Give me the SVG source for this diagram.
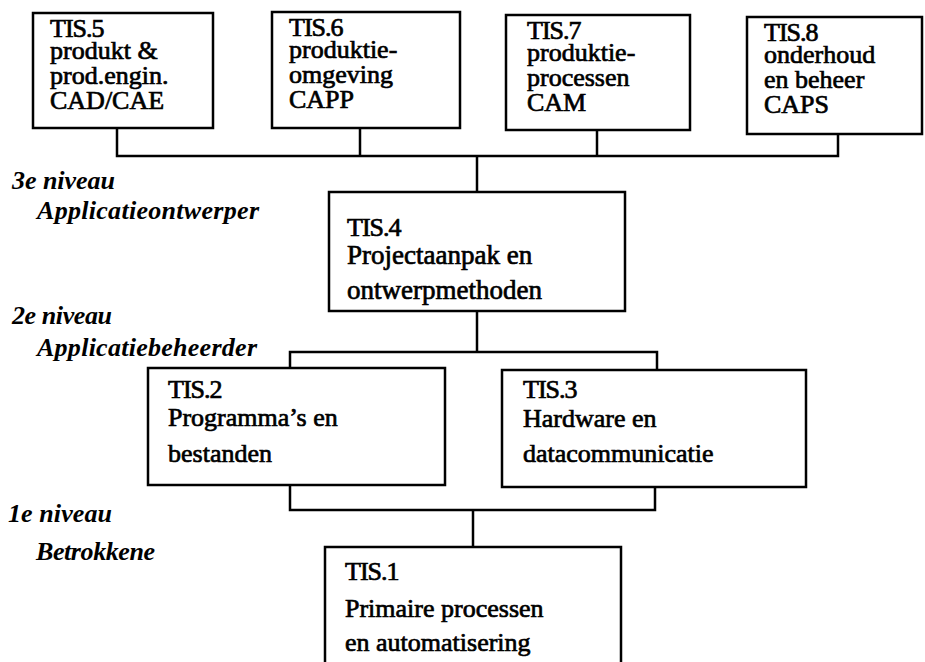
<svg xmlns="http://www.w3.org/2000/svg" width="925" height="662" viewBox="0 0 925 662">
<style>
.box{fill:#fff;stroke:#000;stroke-width:2.5}
.ln{fill:none;stroke:#000;stroke-width:2.5}
.t{font-family:"Liberation Serif","Times New Roman",serif;font-size:26px;fill:#000;stroke:#000;stroke-width:0.7}
.s{font-size:27px}
.id{letter-spacing:-1px}
.lab{font-family:"Liberation Serif","Times New Roman",serif;font-size:26px;font-style:italic;font-weight:bold;fill:#000}
</style>
<rect width="925" height="662" fill="#fff"/>
<g id="connectors">
<polyline class="ln" points="117,128 117,156 838,156 838,134"/>
<line class="ln" x1="360" y1="128" x2="360" y2="156"/>
<line class="ln" x1="597" y1="130" x2="597" y2="156"/>
<line class="ln" x1="477" y1="156" x2="477" y2="192"/>
<line class="ln" x1="477" y1="311" x2="477" y2="352"/>
<polyline class="ln" points="290,368 290,352 657,352 657,370"/>
<polyline class="ln" points="290,485 290,510 655,510 655,487"/>
<line class="ln" x1="473" y1="510" x2="473" y2="547"/>
</g>
<g id="labels">
<text class="lab" x="12" y="189" textLength="103" lengthAdjust="spacing">3e niveau</text>
<text class="lab" x="37" y="219" textLength="222" lengthAdjust="spacing">Applicatieontwerper</text>
<text class="lab" x="12" y="324" textLength="100" lengthAdjust="spacing">2e niveau</text>
<text class="lab" x="37" y="356" textLength="220" lengthAdjust="spacing">Applicatiebeheerder</text>
<text class="lab" x="8" y="522" textLength="104" lengthAdjust="spacing">1e niveau</text>
<text class="lab" x="36" y="560" textLength="119" lengthAdjust="spacing">Betrokkene</text>
</g>
<g id="tis5">
<rect class="box" x="33" y="13" width="180" height="115"/>
<text class="t id" x="50" y="37">TIS.5</text>
<text class="t" x="50" y="59">produkt &amp;</text>
<text class="t" x="50" y="84">prod.engin.</text>
<text class="t" x="50" y="109">CAD/CAE</text>
</g>
<g id="tis6">
<rect class="box" x="272" y="12" width="188" height="116"/>
<text class="t id" x="289" y="36">TIS.6</text>
<text class="t" x="289" y="58">produktie-</text>
<text class="t" x="289" y="83">omgeving</text>
<text class="t" x="289" y="108">CAPP</text>
</g>
<g id="tis7">
<rect class="box" x="506" y="15" width="184" height="115"/>
<text class="t id" x="527" y="39">TIS.7</text>
<text class="t" x="527" y="61">produktie-</text>
<text class="t" x="527" y="86">processen</text>
<text class="t" x="527" y="111">CAM</text>
</g>
<g id="tis8">
<rect class="box" x="747" y="17" width="175" height="117"/>
<text class="t id" x="764" y="41">TIS.8</text>
<text class="t" x="764" y="63">onderhoud</text>
<text class="t" x="764" y="88">en beheer</text>
<text class="t" x="764" y="113">CAPS</text>
</g>
<g id="tis4">
<rect class="box" x="329" y="192" width="296" height="119"/>
<text class="t id" x="347" y="236">TIS.4</text>
<text class="t s" x="347" y="264">Projectaanpak en</text>
<text class="t s" x="347" y="299">ontwerpmethoden</text>
</g>
<g id="tis2">
<rect class="box" x="148" y="368" width="297" height="117"/>
<text class="t id" x="168" y="398">TIS.2</text>
<text class="t" x="168" y="426">Programma’s en</text>
<text class="t" x="168" y="462">bestanden</text>
</g>
<g id="tis3">
<rect class="box" x="502" y="370" width="304" height="117"/>
<text class="t id" x="523" y="398">TIS.3</text>
<text class="t" x="523" y="427">Hardware en</text>
<text class="t" x="523" y="462">datacommunicatie</text>
</g>
<g id="tis1">
<rect class="box" x="325" y="547" width="296" height="125"/>
<text class="t id" x="345" y="580">TIS.1</text>
<text class="t" x="345" y="617">Primaire processen</text>
<text class="t" x="345" y="651">en automatisering</text>
</g>
</svg>
